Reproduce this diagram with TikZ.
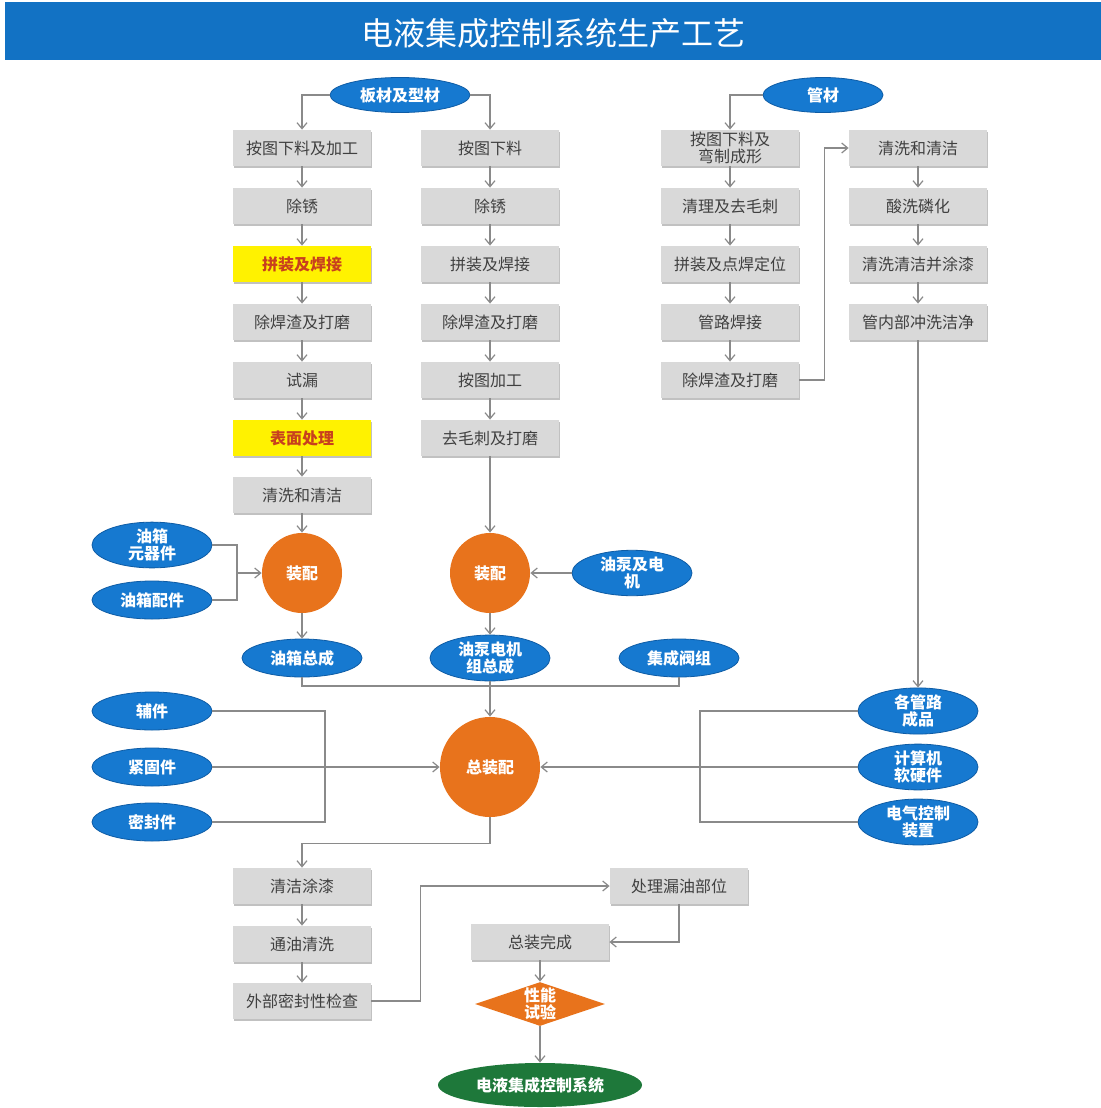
\documentclass[tikz,border=0pt]{standalone}
\usepackage{fontspec}
\setmainfont{Noto Sans CJK SC}
\usetikzlibrary{shapes.geometric,arrows.meta,shadows}
\definecolor{titleblue}{RGB}{18,114,196}
\definecolor{ovalblue}{RGB}{22,121,208}
\definecolor{ovalborder}{RGB}{14,92,165}
\definecolor{boxgray}{RGB}{217,217,217}
\definecolor{boxtext}{RGB}{64,64,64}
\definecolor{hiyellow}{RGB}{255,242,0}
\definecolor{hitext}{RGB}{200,64,30}
\definecolor{circorange}{RGB}{232,115,28}
\definecolor{endgreen}{RGB}{30,120,58}
\definecolor{linegray}{RGB}{138,138,138}
\tikzset{
  stepbox/.style={rectangle, fill=boxgray, text=boxtext, minimum width=69pt, minimum height=18pt,
    inner sep=1pt, align=center, font=\fontsize{8}{9}\selectfont,
    drop shadow={shadow xshift=0.4pt, shadow yshift=-1pt, fill=black!40, opacity=0.6}},
  hibox/.style={stepbox, fill=hiyellow, text=hitext, font=\fontsize{8}{9}\selectfont\bfseries},
  oval/.style={ellipse, fill=ovalblue, draw=ovalborder, line width=0.4pt, text=white, inner sep=0pt,
    minimum width=60pt, minimum height=19pt, align=center, font=\fontsize{8}{8.5}\selectfont\bfseries},
  roundnode/.style={circle, fill=circorange, text=white, inner sep=0pt, align=center,
    font=\fontsize{8}{9}\selectfont\bfseries},
  line/.style={draw=linegray, line width=0.6pt},
  arr/.style={line, -{Straight Barb[length=3pt,width=5pt]}},
}
\begin{document}
\begin{tikzpicture}[x=0.5pt,y=-0.5pt]
\useasboundingbox (0,0) rectangle (1101,1108);
\fill[white] (0,0) rectangle (1101,1108);
% title
\fill[titleblue] (5,2) rectangle (1101,60);
\node[text=white, font=\fontsize{16}{18}\selectfont] (title) at (553,33) {电液集成控制系统生产工艺};
% sources
\node[oval, minimum width=70pt, minimum height=17.5pt] (src1) at (400,95) {板材及型材};
\node[oval, minimum width=60pt, minimum height=17.5pt] (src2) at (823,95) {管材};
% column 1
\node[stepbox] (a1) at (302,148) {按图下料及加工};
\node[stepbox] (a2) at (302,206) {除锈};
\node[hibox]   (a3) at (302,264) {拼装及焊接};
\node[stepbox] (a4) at (302,322) {除焊渣及打磨};
\node[stepbox] (a5) at (302,380) {试漏};
\node[hibox]   (a6) at (302,438) {表面处理};
\node[stepbox] (a7) at (302,495) {清洗和清洁};
% column 2
\node[stepbox] (b1) at (490,148) {按图下料};
\node[stepbox] (b2) at (490,206) {除锈};
\node[stepbox] (b3) at (490,264) {拼装及焊接};
\node[stepbox] (b4) at (490,322) {除焊渣及打磨};
\node[stepbox] (b5) at (490,380) {按图加工};
\node[stepbox] (b6) at (490,438) {去毛刺及打磨};
% column 3
\node[stepbox, font=\fontsize{8}{8.5}\selectfont] (c1) at (730,148) {按图下料及\\弯制成形};
\node[stepbox] (c2) at (730,206) {清理及去毛刺};
\node[stepbox] (c3) at (730,264) {拼装及点焊定位};
\node[stepbox] (c4) at (730,322) {管路焊接};
\node[stepbox] (c5) at (730,380) {除焊渣及打磨};
% column 4
\node[stepbox] (d1) at (918,148) {清洗和清洁};
\node[stepbox] (d2) at (918,206) {酸洗磷化};
\node[stepbox] (d3) at (918,264) {清洗清洁并涂漆};
\node[stepbox] (d4) at (918,322) {管内部冲洗洁净};
% top connectors
\draw[arr] (src1.west) -| (a1.north);
\draw[arr] (src1.east) -| (b1.north);
\draw[arr] (src2.west) -| (c1.north);
\foreach \p/\q in {a1/a2,a2/a3,a3/a4,a4/a5,a5/a6,a6/a7,b1/b2,b2/b3,b3/b4,b4/b5,b5/b6,c1/c2,c2/c3,c3/c4,c4/c5,d1/d2,d2/d3,d3/d4}
  \draw[arr] (\p.south) -- (\q.north);
\draw[arr] (c5.east) -- ++(25,0) |- (d1.west);
% assembly
\node[roundnode, minimum size=40pt] (asm1) at (302,573) {装配};
\node[roundnode, minimum size=40pt] (asm2) at (490,573) {装配};
\node[oval] (e1) at (152,545) {油箱\\元器件};
\node[oval] (e2) at (152,600) {油箱配件};
\node[oval] (e3) at (632,573) {油泵及电\\机};
\coordinate (j1) at (237,573);
\draw[line] (e1.east) -| (j1);
\draw[line] (e2.east) -| (j1);
\draw[arr] (j1) -- (asm1.west);
\draw[arr] (e3.west) -- (asm2.east);
\draw[arr] (a7.south) -- (asm1.north);
\draw[arr] (b6.south) -- (asm2.north);
\node[oval] (o1) at (302,658) {油箱总成};
\node[oval] (o2) at (490,658) {油泵电机\\组总成};
\node[oval] (o3) at (679,658) {集成阀组};
\draw[arr] (asm1.south) -- (o1.north);
\draw[arr] (asm2.south) -- (o2.north);
% main assembly
\node[roundnode, minimum size=50pt] (main) at (490,767) {总装配};
\coordinate (jh) at (490,686);
\draw[line] (o1.south) |- (jh) -| (o3.south);
\draw[arr] (o2.south) -- (main.north);
\node[oval] (f1) at (152,711) {辅件};
\node[oval] (f2) at (152,767) {紧固件};
\node[oval] (f3) at (152,822) {密封件};
\coordinate (jl) at (325,767);
\draw[line] (f1.east) -| (jl) |- (f3.east);
\draw[arr] (f2.east) -- (main.west);
\node[oval] (g1) at (918,711) {各管路\\成品};
\node[oval] (g2) at (918,767) {计算机\\软硬件};
\node[oval] (g3) at (918,822) {电气控制\\装置};
\coordinate (jr) at (700,767);
\draw[line] (g1.west) -| (jr) |- (g3.west);
\draw[arr] (g2.west) -- (main.east);
\draw[arr] (d4.south) -- (g1.north);
% final steps
\node[stepbox] (p1) at (302,886) {清洁涂漆};
\node[stepbox] (p2) at (302,944) {通油清洗};
\node[stepbox] (p3) at (302,1001) {外部密封性检查};
\node[stepbox] (q1) at (679,886) {处理漏油部位};
\node[stepbox] (q2) at (540,942) {总装完成};
\draw[arr] (main.south) -- ++(0,26) -| (p1.north);
\draw[arr] (p1.south) -- (p2.north);
\draw[arr] (p2.south) -- (p3.north);
\draw[arr] (p3.east) -- ++(49,0) |- (q1.west);
\draw[arr] (q1.south) |- (q2.east);
\node[diamond, aspect=3, inner sep=0pt, fill=circorange, text=white, align=center,
  font=\fontsize{8}{8.5}\selectfont\bfseries, minimum width=65pt, minimum height=22pt] (test) at (540,1004) {性能\\试验};
\node[ellipse, fill=endgreen, text=white, inner sep=0pt, minimum width=102pt, minimum height=22pt,
  font=\fontsize{8}{9}\selectfont\bfseries] (final) at (540,1085) {电液集成控制系统};
\draw[arr] (q2.south) -- (test.north);
\draw[arr] (test.south) -- (final.north);
\end{tikzpicture}
\end{document}
